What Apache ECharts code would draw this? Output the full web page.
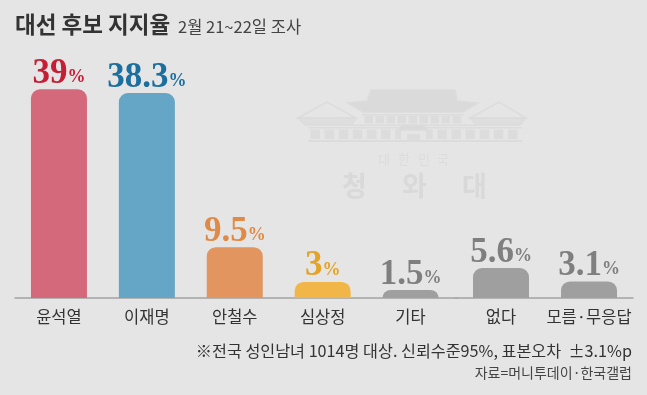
<!DOCTYPE html>
<html><head><meta charset="utf-8">
<style>html,body{margin:0;padding:0;background:#e5e5e5}#c{width:647px;height:395px}</style>
<script src="https://cdn.jsdelivr.net/npm/echarts@6/dist/echarts.min.js"></script>
</head><body><div id="c"></div>
<script>
const categoriesA = ['윤석열','이재명','안철수','심상정','기타'];
const valuesA = [39, 38.3, 9.5, 3, 1.5];
const barColorsA = ['#d3697a','#65a5c6','#e2955e','#f0b748','#9f9f9f'];
const labelColorsA = ['#c61f35','#1a6f9f','#e08a48','#e5a325','#7f7f7f'];
const categoriesB = ['없다','모름·무응답'];
const valuesB = [5.6, 3.1];
const barColorsB = ['#9f9f9f','#9f9f9f'];
const labelColorsB = ['#7f7f7f','#7f7f7f'];

const KR = '"Noto Sans CJK KR","Noto Sans",sans-serif';
const WM = '#dcdcdc';
function series(vals, colors, labelColors, idx){
  return {
    type:'bar', xAxisIndex:idx, yAxisIndex:idx, barWidth:56, silent:true,
    data: vals.map((v,i)=>({
      value:v,
      itemStyle:{color:colors[i],borderRadius:[9,9,0,0]},
      label:{
        show:true, position:'top', distance:-2,
        formatter:'{n|'+v+'}{p|%}',
        rich:{
          n:{fontFamily:'"Liberation Serif",serif',fontWeight:'bold',fontSize:35,color:labelColors[i]},
          p:{fontFamily:'"Liberation Serif",serif',fontSize:18,fontWeight:'bold',color:labelColors[i],verticalAlign:'bottom',padding:[0,0,5,0]}
        }
      }
    }))
  };
}
function xAxis(cats, idx){
  return {type:'category',gridIndex:idx,data:cats,
    axisTick:{show:false},
    axisLine:{lineStyle:{color:'#a3a3a3',width:1.5}},
    axisLabel:{color:'#333',fontFamily:KR,fontSize:16.5,margin:10,interval:0}};
}
function yAxis(idx){
  return {type:'value',gridIndex:idx,min:0,max:40,show:false,splitLine:{show:false}};
}
function t(text,x,y,size,color,extra){
  return {type:'text',silent:true,x:x,y:y,style:Object.assign({text:text,fontSize:size,fontFamily:KR,fill:color,textVerticalAlign:'middle'},extra||{})};
}
function poly(pts,fill,stroke){
  return {type:'polygon',silent:true,shape:{points:pts},style:{fill:fill||'none',stroke:stroke||WM,lineWidth:1.5}};
}
function rect(x,y,w,h,fill){
  return {type:'rect',silent:true,shape:{x:x,y:y,width:w,height:h},style:{fill:fill||WM}};
}
// decorative palace watermark
const palace = [];
palace.push(poly([[371,90],[455,90],[457,101],[478,103],[463,112],[363,112],[348,103],[367,101]],'#dadada'));
for(let i=0;i<9;i++){ palace.push(rect(364.5+i*11,116,8.5,7.5,'#dcdcdc')); }
palace.push(rect(362,114,102,1.5));
palace.push(poly([[298,118],[327,102],[356,118]],'none'));
palace.push(poly([[470,118],[499,102],[526,118]],'none'));
palace.push(poly([[298,118],[356,118],[352,125],[305,125]],'#dedede'));
palace.push(poly([[470,118],[526,118],[520,125],[476,125]],'#dedede'));
palace.push(rect(345,124.5,134,1.5));
palace.push(rect(308,127,214,1.5));
palace.push(rect(308,140,214,2));
for(let i=0;i<15;i++){ palace.push(rect(310.5+i*14.1,129.5,9.5,9.5,'#dcdcdc')); }
palace.push(poly([[398,130],[402,125],[424,125],[428,130]],'#d9d9d9'));
palace.push(rect(401,131,25,9,'#e5e5e5'));
palace.push(rect(407,134,13,6,'#dcdcdc'));
const smallWord = [['대',378],['한',398],['민',418],['국',437]];
const bigWord = [['청',342],['와',402],['대',462]];

const option = {
  backgroundColor:'#e5e5e5',
  animation:false,
  title:[
    {text:'대선 후보 지지율',left:15,top:13,textStyle:{fontFamily:KR,fontSize:22.5,fontWeight:'bold',color:'#333'},padding:0},
    {text:'2월 21~22일 조사',left:178,top:18,textStyle:{fontFamily:KR,fontSize:16.5,fontWeight:'normal',color:'#444'},padding:0}
  ],
  grid:[
    {left:15,top:84,width:439.5,height:214},
    {left:457,top:84,width:176,height:214}
  ],
  xAxis:[xAxis(categoriesA,0),xAxis(categoriesB,1)],
  yAxis:[yAxis(0),yAxis(1)],
  series:[series(valuesA,barColorsA,labelColorsA,0),series(valuesB,barColorsB,labelColorsB,1)],
  graphic:[
    {type:'group',z:-1,silent:true,children:palace
      .concat(smallWord.map(w=>t(w[0],w[1],159,13,'#dcdcdc')))
      .concat(bigWord.map(w=>t(w[0],w[1],186,27,'#d9d9d9',{fontWeight:'bold'})))},
    {type:'rect',silent:true,shape:{x:454,y:297.25,width:4,height:1.5},style:{fill:'#a3a3a3'}},
    t('※전국 성인남녀 1014명 대상. 신뢰수준95%, 표본오차  ±3.1%p',632,351,16.2,'#333',{textAlign:'right'}),
    t('자료=머니투데이·한국갤럽',632,372.5,14,'#444',{textAlign:'right'})
  ]
};
echarts.init(document.getElementById('c'),null,{renderer:'canvas'}).setOption(option);
</script></body></html>
